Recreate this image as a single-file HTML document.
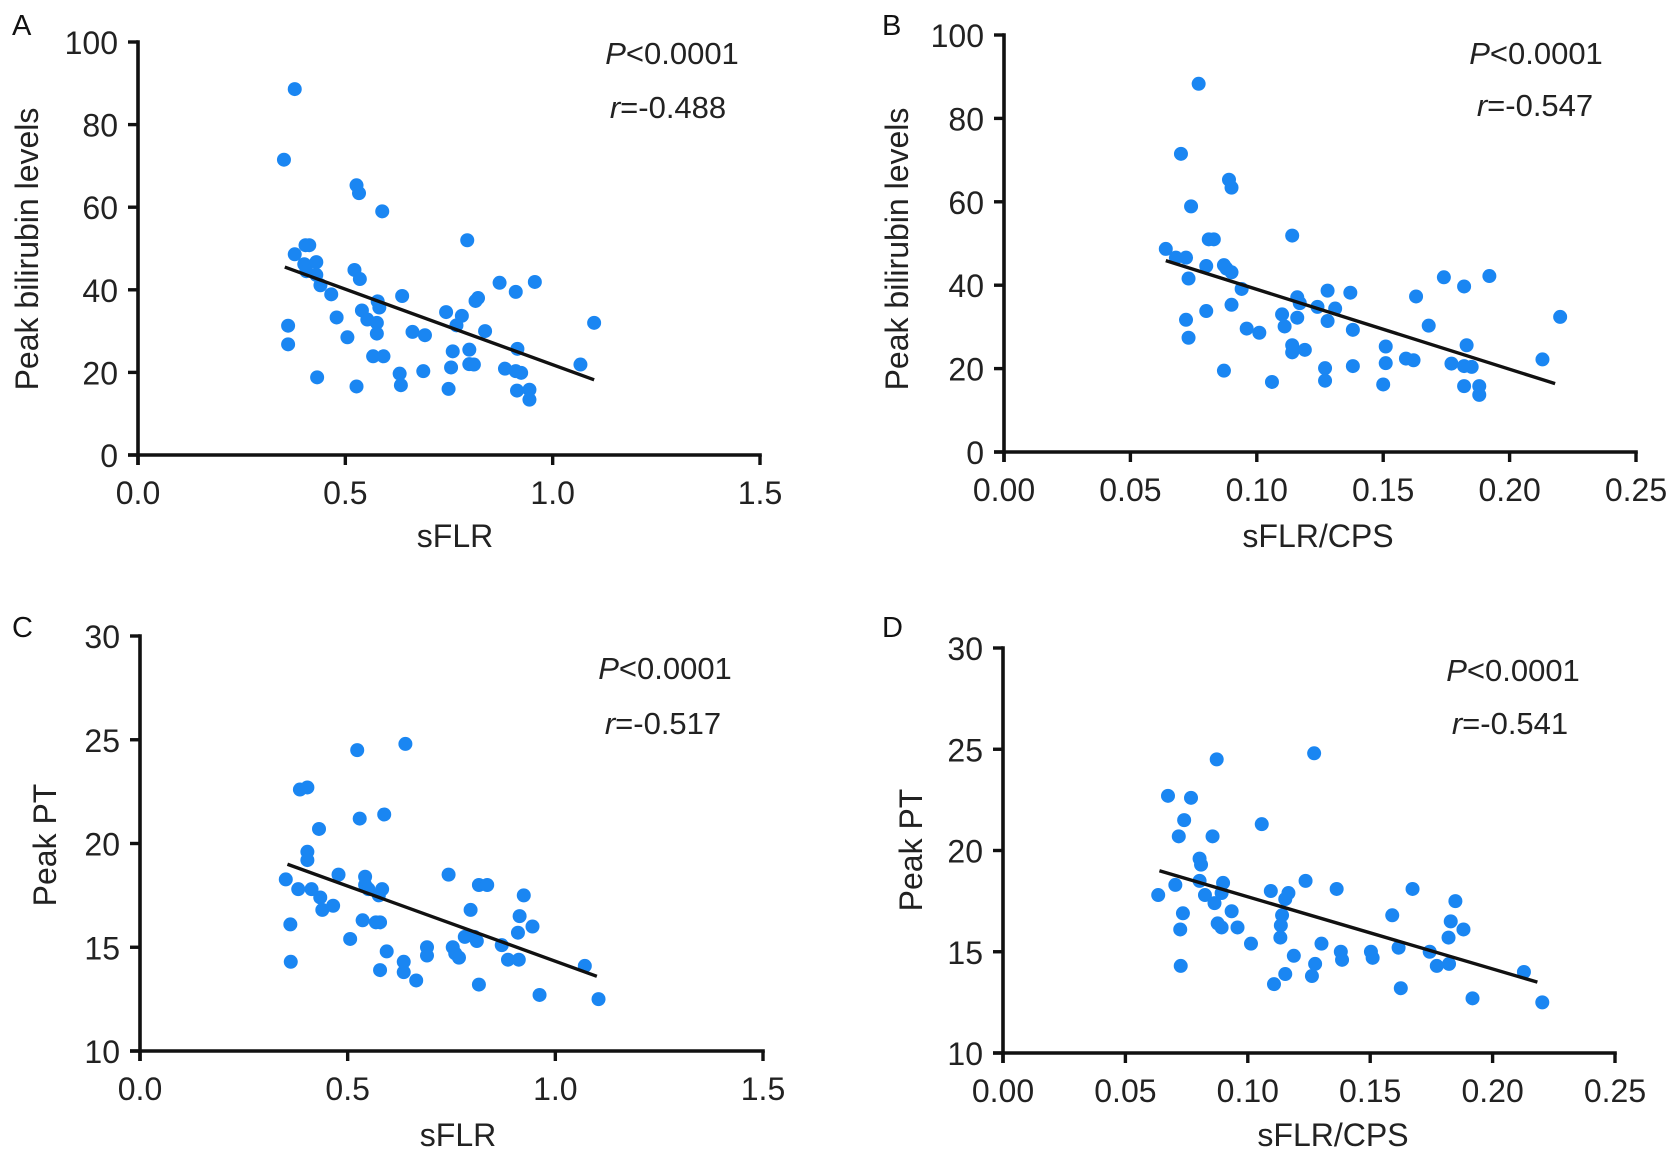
<!DOCTYPE html>
<html><head><meta charset="utf-8"><style>
html,body{margin:0;padding:0;background:#fff;}
svg{display:block;font-family:"Liberation Sans",Arial,sans-serif;}
</style></head><body>
<svg id="fig" width="1677" height="1159" viewBox="0 0 1677 1159" xmlns="http://www.w3.org/2000/svg"></svg>
<script>
// Panel A data
const aX=[0.378,0.352,0.362,0.362,0.378,0.404,0.413,0.401,0.430,0.406,0.430,0.440,0.466,0.479,0.432,0.505,0.522,0.535,0.527,0.533,0.527,0.540,0.553,0.578,0.582,0.576,0.576,0.567,0.592,0.589,0.637,0.662,0.692,0.631,0.634,0.688,0.743,0.781,0.768,0.759,0.755,0.749,0.794,0.799,0.799,0.810,0.814,0.820,0.837,0.872,0.911,0.957,0.915,0.885,0.911,0.924,0.914,0.944,0.944,1.067,1.100];
const aY=[88.6,71.5,31.3,26.8,48.6,50.8,50.8,46.2,46.7,44.5,43.6,41.1,38.9,33.3,18.8,28.5,44.8,42.6,65.3,63.4,16.6,35.0,32.8,37.2,35.7,32.0,29.4,23.9,23.9,59.0,38.5,29.8,29.0,19.7,16.9,20.3,34.6,33.7,31.4,25.1,21.2,16.0,52.0,25.5,22.0,21.9,37.3,38.0,30.0,41.7,39.5,41.9,25.7,20.9,20.3,19.9,15.6,15.8,13.4,21.9,32.0];
const aLineX=[0.354,1.100];
const aLineY=[45.5,18.2];
// Panel B data
const bX=[0.077,0.070,0.074,0.089,0.090,0.064,0.068,0.072,0.081,0.083,0.073,0.080,0.087,0.088,0.090,0.094,0.090,0.080,0.072,0.073,0.087,0.096,0.101,0.106,0.114,0.110,0.111,0.116,0.116,0.117,0.114,0.114,0.119,0.124,0.128,0.131,0.128,0.127,0.127,0.137,0.138,0.138,0.151,0.151,0.150,0.159,0.162,0.163,0.168,0.174,0.177,0.182,0.183,0.182,0.185,0.182,0.188,0.188,0.192,0.213,0.220];
const bY=[88.3,71.5,58.9,65.3,63.4,48.7,46.6,46.6,51.0,51.0,41.6,44.6,44.8,44.0,43.1,39.1,35.3,33.8,31.7,27.4,19.5,29.6,28.6,16.8,51.9,33.0,30.1,32.2,37.1,35.7,25.6,23.9,24.5,34.8,38.7,34.4,31.4,20.1,17.1,38.2,29.3,20.6,25.3,21.3,16.2,22.4,22.0,37.3,30.3,41.9,21.2,39.7,25.6,20.6,20.4,15.8,15.8,13.7,42.2,22.2,32.4];
const bLineX=[0.064,0.218];
const bLineY=[45.9,16.4];
// Panel C data
const cX=[0.351,0.362,0.363,0.381,0.385,0.403,0.403,0.403,0.413,0.431,0.434,0.439,0.465,0.478,0.506,0.523,0.529,0.542,0.542,0.550,0.536,0.568,0.578,0.583,0.575,0.588,0.594,0.578,0.635,0.635,0.639,0.665,0.691,0.691,0.743,0.753,0.759,0.768,0.782,0.796,0.805,0.816,0.836,0.811,0.816,0.871,0.886,0.912,0.910,0.914,0.924,0.945,0.962,1.071,1.104];
const cY=[18.27,16.1,14.3,17.8,22.6,22.7,19.6,19.2,17.8,20.7,17.4,16.8,17.0,18.5,15.4,24.5,21.2,18.4,18.0,17.8,16.3,16.2,16.2,17.8,17.5,21.4,14.8,13.9,14.3,13.8,24.8,13.4,15.0,14.6,18.5,15.0,14.7,14.5,15.5,16.8,15.5,18.0,18.0,15.3,13.2,15.1,14.4,14.4,15.7,16.5,17.5,16.0,12.7,14.1,12.5];
const cLineX=[0.355,1.100];
const cLineY=[19.0,13.6];
// Panel D data
const dX=[0.0634,0.0674,0.0704,0.0718,0.0735,0.0724,0.0726,0.0740,0.0768,0.0803,0.0809,0.0803,0.0825,0.0856,0.0873,0.0864,0.0877,0.0893,0.0899,0.0893,0.0934,0.0958,0.1013,0.1057,0.1094,0.1107,0.1166,0.1153,0.1140,0.1135,0.1133,0.1153,0.1188,0.1236,0.1271,0.1262,0.1275,0.1301,0.1363,0.1380,0.1385,0.1503,0.1510,0.1590,0.1616,0.1625,0.1673,0.1743,0.1772,0.1820,0.1829,0.1848,0.1822,0.1881,0.1918,0.2128,0.2203];
const dY=[17.8,22.7,18.3,20.7,16.9,16.1,14.3,21.5,22.6,19.6,19.3,18.5,17.8,20.7,24.5,17.4,16.4,16.2,18.4,17.9,17.0,16.2,15.4,21.3,18.0,13.4,17.9,17.6,16.8,16.3,15.7,13.9,14.8,18.5,24.8,13.8,14.4,15.4,18.1,15.0,14.6,15.0,14.7,16.8,15.2,13.2,18.1,15.0,14.3,15.7,16.5,17.5,14.4,16.1,12.7,14.0,12.5];
const dLineX=[0.0639,0.2183];
const dLineY=[19.0,13.5];
// Tick labels
const ticksSFLR=[0,0.5,1.0,1.5];
const ticksSFLRLabels=["0.0","0.5","1.0","1.5"];
const ticksCPS=[0,0.05,0.10,0.15,0.20,0.25];
const ticksCPSLabels=["0.00","0.05","0.10","0.15","0.20","0.25"];
const ticksBil=[0,20,40,60,80,100];
const ticksPT=[10,15,20,25,30];

const NS="http://www.w3.org/2000/svg";
const svg=document.getElementById('fig');
function mk(tag,attrs,parent){const e=document.createElementNS(NS,tag);for(const k in attrs)e.setAttribute(k,attrs[k]);(parent||svg).appendChild(e);return e;}

const panels=[
 {id:'a',letter:'A',lx:12,ly:35,x0:138,x1:760,xmin:0,xmax:1.5,y0:455,y1:42,ymin:0,ymax:100,xs:aX,ys:aY,lX:aLineX,lY:aLineY,xt:ticksSFLR,xl:ticksSFLRLabels,yt:ticksBil,xtitle:'sFLR',ytitle:'Peak bilirubin levels',ytx:27,yty:249,xtx:455,xty:547,px:672,py:64,rx:668,ry:118,r:'-0.488'},
 {id:'b',letter:'B',lx:882,ly:35,x0:1004,x1:1636,xmin:0,xmax:0.25,y0:452,y1:35,ymin:0,ymax:100,xs:bX,ys:bY,lX:bLineX,lY:bLineY,xt:ticksCPS,xl:ticksCPSLabels,yt:ticksBil,xtitle:'sFLR/CPS',ytitle:'Peak bilirubin levels',ytx:897,yty:249,xtx:1318,xty:547,px:1536,py:64,rx:1535,ry:116,r:'-0.547'},
 {id:'c',letter:'C',lx:12,ly:637,x0:140,x1:763,xmin:0,xmax:1.5,y0:1051,y1:636,ymin:10,ymax:30,xs:cX,ys:cY,lX:cLineX,lY:cLineY,xt:ticksSFLR,xl:ticksSFLRLabels,yt:ticksPT,xtitle:'sFLR',ytitle:'Peak PT',ytx:45,yty:845,xtx:458,xty:1146,px:665,py:679,rx:663,ry:734,r:'-0.517'},
 {id:'d',letter:'D',lx:882,ly:637,x0:1003,x1:1615,xmin:0,xmax:0.25,y0:1053,y1:648,ymin:10,ymax:30,xs:dX,ys:dY,lX:dLineX,lY:dLineY,xt:ticksCPS,xl:ticksCPSLabels,yt:ticksPT,xtitle:'sFLR/CPS',ytitle:'Peak PT',ytx:911,yty:850,xtx:1333,xty:1146,px:1513,py:681,rx:1510,ry:734,r:'-0.541'}
];

panels.forEach(p=>{
 const g=mk('g',{});
 
 
 const sx=v=>p.x0+(v-p.xmin)/(p.xmax-p.xmin)*(p.x1-p.x0);
 const sy=v=>p.y0-(v-p.ymin)/(p.ymax-p.ymin)*(p.y0-p.y1);
 const L=mk('text',{x:p.lx,y:p.ly,'font-size':29,fill:'#111'},g);L.textContent=p.letter;
 
 
 const xa=mk('line',{x1:p.x0-10,y1:p.y0,x2:p.x1+1.8,y2:p.y0,stroke:'#111','stroke-width':3.6},g);
 
 
 const ya=mk('line',{x1:p.x0,y1:p.y0+10,x2:p.x0,y2:p.y1-1.8,stroke:'#111','stroke-width':3.6},g);
 
 
 p.xt.forEach((t,i)=>{
  const X=sx(t);
  const tk=mk('line',{x1:X,y1:p.y0,x2:X,y2:p.y0+10,stroke:'#111','stroke-width':3.4},g);
  
  
  const tl=mk('text',{x:X,y:p.y0+49,'font-size':32,'text-anchor':'middle',fill:'#222'},g);
  tl.textContent=p.xl[i];
  
  
 });
 p.yt.forEach(t=>{
  const Y=sx===null?0:sy(t);
  const tk=mk('line',{x1:p.x0-10,y1:Y,x2:p.x0,y2:Y,stroke:'#111','stroke-width':3.4},g);
  
  
  const tl=mk('text',{x:p.x0-20,y:Y+12,'font-size':32,'text-anchor':'end',fill:'#222'},g);
  tl.textContent=String(t);
  
  
 });
 const xt=mk('text',{x:p.xtx,y:p.xty,'font-size':32,'text-anchor':'middle',fill:'#222'},g);
 xt.textContent=p.xtitle;
 
 
 const yt=mk('text',{x:0,y:0,'font-size':32,'text-anchor':'middle',fill:'#222',transform:`translate(${p.ytx+11},${p.yty}) rotate(-90)`},g);
 yt.textContent=p.ytitle;
 
 
 p.xs.forEach((v,i)=>{
  const c=mk('circle',{cx:sx(v),cy:sy(p.ys[i]),r:7,fill:'#1A86F2'},g);
  
  
 });
 const rl=mk('line',{x1:sx(p.lX[0]),y1:sy(p.lY[0]),x2:sx(p.lX[1]),y2:sy(p.lY[1]),stroke:'#111','stroke-width':3.4},g);
 
 
 const pt=mk('text',{x:p.px,y:p.py,'font-size':31,'text-anchor':'middle',fill:'#222'},g);
 pt.innerHTML='<tspan font-style="italic">P</tspan>&lt;0.0001';
 
 
 const rt=mk('text',{x:p.rx,y:p.ry,'font-size':31,'text-anchor':'middle',fill:'#222'},g);
 rt.innerHTML='<tspan font-style="italic">r</tspan>='+p.r;
 
 
});
</script>
</body></html>
